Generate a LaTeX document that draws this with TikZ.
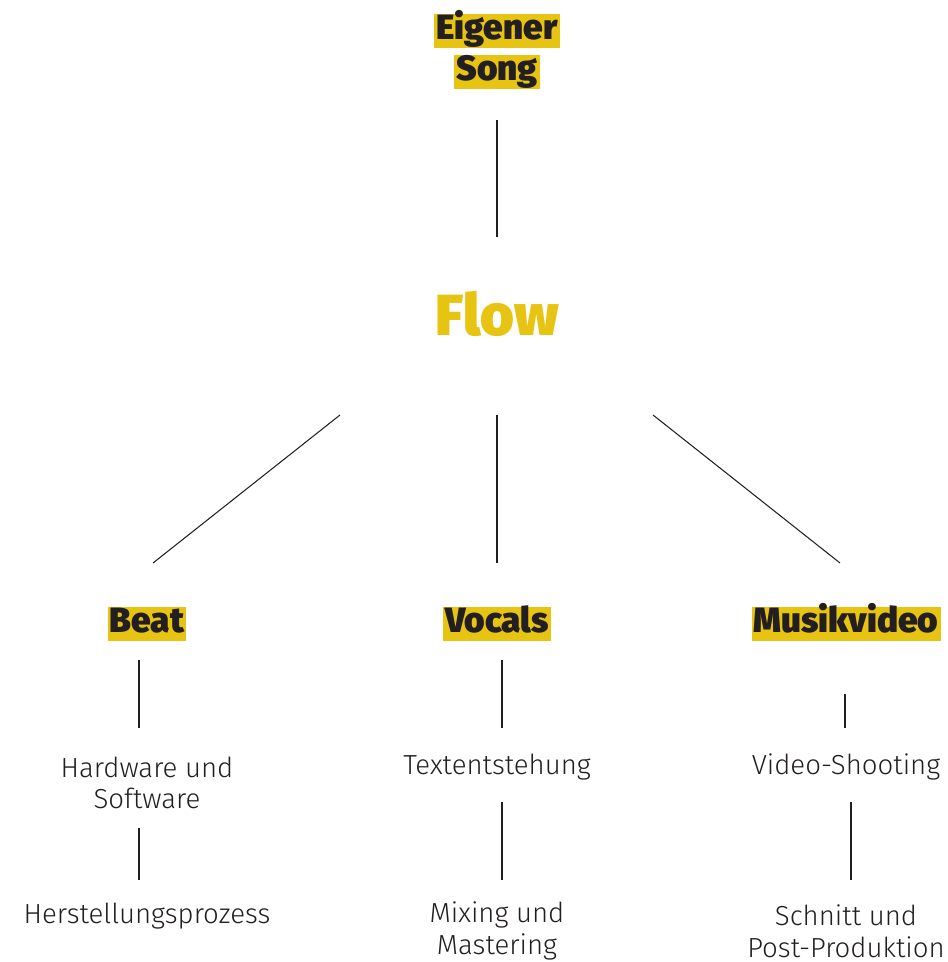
\documentclass[tikz,border=0pt]{standalone}
\usepackage{fontspec}
\setmainfont{Fira Sans Light}
\newfontfamily\headfont{Fira Sans Black}
\usetikzlibrary{positioning, calc}
\definecolor{songyellow}{HTML}{E8C412}
\definecolor{inkdark}{HTML}{231F20}
\tikzset{
  head/.style={fill=songyellow, text=inkdark, font=\headfont\fontsize{20}{22}\selectfont, inner xsep=1.2pt, inner ysep=0pt, text height=14.6pt, text depth=5pt},
  flowtitle/.style={text=songyellow, font=\headfont\fontsize{33}{36}\selectfont, inner sep=0pt},
  task/.style={text=inkdark, font=\fontsize{15.7}{18}\selectfont, align=center, inner sep=0pt},
  link/.style={draw=inkdark, line width=0.6pt}
}
\begin{document}
\begin{tikzpicture}[x=0.02cm, y=-0.02cm]
\useasboundingbox (0,0) rectangle (947,962);

% title
\node (eigener) [head] at (497,31) {Eigener};
\node (song) [head] at (497,72) {Song};
\node (flow) [flowtitle] at (497,314) {Flow};

% main branches
\node (beat) [head] at (147,624) {Beat};
\node (vocals) [head] at (497,624) {Vocals};
\node (video) [head] at (846,624) {Musikvideo};

% steps
\node (hardware) [task] at (147,783) {Hardware und\\Software};
\node (prozess) [task] at (147,916) {Herstellungsprozess};
\node (text) [task] at (497,767) {Textentstehung};
\node (mixing) [task] at (497,931) {Mixing und\\Mastering};
\node (shooting) [task] at (846,767) {Video-Shooting};
\node (schnitt) [task] at (846,931) {Schnitt und\\Post-Produktion};

\draw [link] ($(song)+(0,48)$) -- ($(flow)+(0,-77)$);
\draw [link] ($(flow)+(-157,101)$) -- ($(beat)+(6,-61)$);
\draw [link] ($(flow)+(0,101)$) -- ($(vocals)+(0,-61)$);
\draw [link] ($(flow)+(156,101)$) -- ($(video)+(-6,-61)$);

\draw [link] ($(beat)+(-8,36)$) -- ($(hardware)+(-8,-55)$);
\draw [link] ($(hardware)+(-8,45)$) -- ($(prozess)+(-8,-36)$);
\draw [link] ($(vocals)+(5,36)$) -- ($(text)+(5,-39)$);
\draw [link] ($(text)+(5,35)$) -- ($(mixing)+(5,-51)$);
\draw [link] ($(video)+(-1,70)$) -- ($(shooting)+(-1,-39)$);
\draw [link] ($(shooting)+(5,35)$) -- ($(schnitt)+(5,-51)$);
\end{tikzpicture}
\end{document}
